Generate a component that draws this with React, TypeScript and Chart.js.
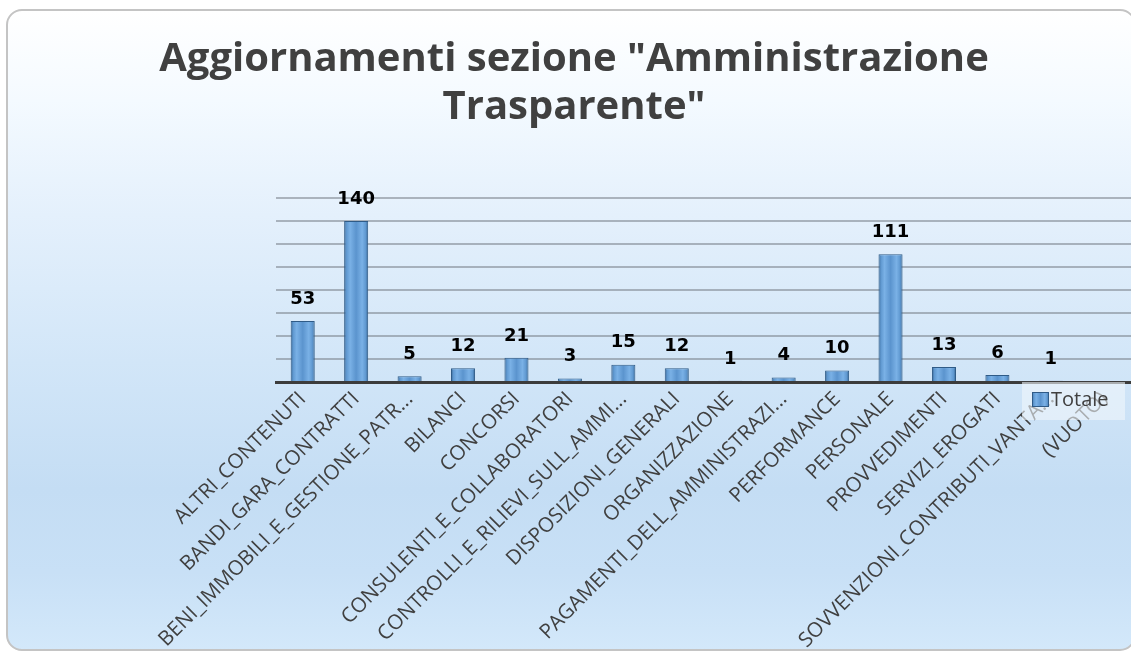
import { useEffect, useRef } from 'react';
import { Chart, registerables } from 'chart.js';

Chart.register(...registerables);

const categories = [
  'ALTRI_CONTENUTI',
  'BANDI_GARA_CONTRATTI',
  'BENI_IMMOBILI_E_GESTIONE_PATR...',
  'BILANCI',
  'CONCORSI',
  'CONSULENTI_E_COLLABORATORI',
  'CONTROLLI_E_RILIEVI_SULL_AMMI...',
  'DISPOSIZIONI_GENERALI',
  'ORGANIZZAZIONE',
  'PAGAMENTI_DELL_AMMINISTRAZI...',
  'PERFORMANCE',
  'PERSONALE',
  'PROVVEDIMENTI',
  'SERVIZI_EROGATI',
  'SOVVENZIONI_CONTRIBUTI_VANTA...',
  '(VUOTO)',
];

const totale: (number | null)[] = [53, 140, 5, 12, 21, 3, 15, 12, 1, 4, 10, 111, 13, 6, 1, null];

const seriesLabel = 'Totale';
const titleLines = ['Aggiornamenti sezione "Amministrazione', 'Trasparente"'];
const yMin = 0;
const yMax = 160;
const yStep = 20;

const BAR_PCT = 0.45;

function makeBarGradient(ctx: CanvasRenderingContext2D, left: number, right: number) {
  const g = ctx.createLinearGradient(left, 0, right, 0);
  g.addColorStop(0, '#35628f');
  g.addColorStop(0.1, '#5f98d0');
  g.addColorStop(0.25, '#7ab1e6');
  g.addColorStop(0.5, '#5b94ce');
  g.addColorStop(0.75, '#7ab1e6');
  g.addColorStop(0.9, '#5f98d0');
  g.addColorStop(1, '#35628f');
  return g;
}

export default function App() {
  const ref = useRef<HTMLCanvasElement>(null);

  useEffect(() => {
    if (!ref.current) return;

    const valueLabels = {
      id: 'valueLabels',
      afterDatasetsDraw(chart: any) {
        const meta = chart.getDatasetMeta(0);
        const ctx = chart.ctx as CanvasRenderingContext2D;
        ctx.save();
        ctx.font = 'bold 18px "DejaVu Sans"';
        ctx.fillStyle = '#000000';
        ctx.textAlign = 'center';
        ctx.textBaseline = 'middle';
        meta.data.forEach((el: any, i: number) => {
          const v = totale[i];
          if (v == null) return;
          ctx.fillText(String(v), el.x, el.y - 22);
        });
        ctx.restore();
      },
    };

    const legendBox = {
      id: 'legendBox',
      afterDraw(chart: any) {
        const ctx = chart.ctx as CanvasRenderingContext2D;
        const area = chart.chartArea;
        const bx = area.right - 109;
        const by = area.bottom;
        ctx.save();
        ctx.fillStyle = 'rgba(240,246,252,0.6)';
        ctx.fillRect(bx, by, 103, 38);
        const sx = bx + 10;
        const sy = by + 10;
        ctx.fillStyle = makeBarGradient(ctx, sx, sx + 17);
        ctx.fillRect(sx, sy, 17, 15);
        ctx.strokeStyle = '#2f5b87';
        ctx.lineWidth = 1;
        ctx.strokeRect(sx + 0.5, sy + 0.5, 16, 14);
        ctx.font = '20px "Open Sans"';
        ctx.fillStyle = '#404040';
        ctx.textAlign = 'left';
        ctx.textBaseline = 'middle';
        ctx.fillText(chart.data.datasets[0].label, sx + 19, sy + 8);
        ctx.restore();
      },
    };

    const chart = new Chart(ref.current, {
      type: 'bar',
      data: {
        labels: categories,
        datasets: [
          {
            label: seriesLabel,
            data: totale,
            barPercentage: BAR_PCT,
            categoryPercentage: 1,
            borderColor: '#2f5b87',
            borderWidth: 1,
            backgroundColor: (c: any) => {
              const ch = c.chart;
              const xs = ch.scales?.x;
              if (!xs || !ch.chartArea) return '#5b9bd5';
              const cw = (xs.right - xs.left) / categories.length;
              const w = cw * BAR_PCT;
              const cx = xs.getPixelForValue(c.dataIndex);
              return makeBarGradient(ch.ctx, cx - w / 2, cx + w / 2);
            },
          },
        ],
      },
      options: {
        responsive: false,
        animation: false,
        layout: { padding: { left: 17, right: 0, top: 0, bottom: 0 } },
        plugins: {
          legend: { display: false },
          tooltip: { enabled: false },
          title: {
            display: true,
            text: titleLines,
            color: '#404040',
            font: { family: '"Open Sans"', size: 40, weight: 'bold', lineHeight: 1.2 },
            padding: { top: 36, bottom: 66 },
          },
        },
        scales: {
          x: {
            grid: { display: false, drawTicks: false },
            border: { display: true, color: '#3c3c3c', width: 3 },
            ticks: {
              autoSkip: false,
              minRotation: 45,
              maxRotation: 45,
              padding: 5,
              color: '#404040',
              font: { family: '"Open Sans"', size: 20.5 },
            },
            afterFit: (s: any) => {
              s.height = 273;
            },
          },
          y: {
            min: yMin,
            max: yMax,
            ticks: { display: false, stepSize: yStep },
            grid: { color: 'rgba(120,128,136,0.55)', lineWidth: 2, drawTicks: false },
            border: { display: false },
            afterFit: (s: any) => {
              s.width = 259;
            },
          },
        },
      },
      plugins: [valueLabels, legendBox],
    });

    return () => chart.destroy();
  }, []);

  return (
    <div style={{ position: 'fixed', left: 0, top: 0, width: 1131, height: 655, overflow: 'hidden', background: '#ffffff' }}>
      <div
        style={{
          position: 'absolute',
          left: 6,
          top: 9,
          width: 1130,
          height: 642,
          boxSizing: 'border-box',
          borderRadius: 16,
          border: '2px solid #c4c4c4',
          background:
            'linear-gradient(to bottom, #ffffff 0%, #f4faff 14%, #e4f0fc 32%, #d2e6f8 55%, #c4ddf4 75%, #c8e0f6 88%, #d3e8fa 100%)',
        }}
      />
      <canvas ref={ref} width={1131} height={655} style={{ position: 'absolute', left: 0, top: 0, width: 1131, height: 655 }} />
    </div>
  );
}
